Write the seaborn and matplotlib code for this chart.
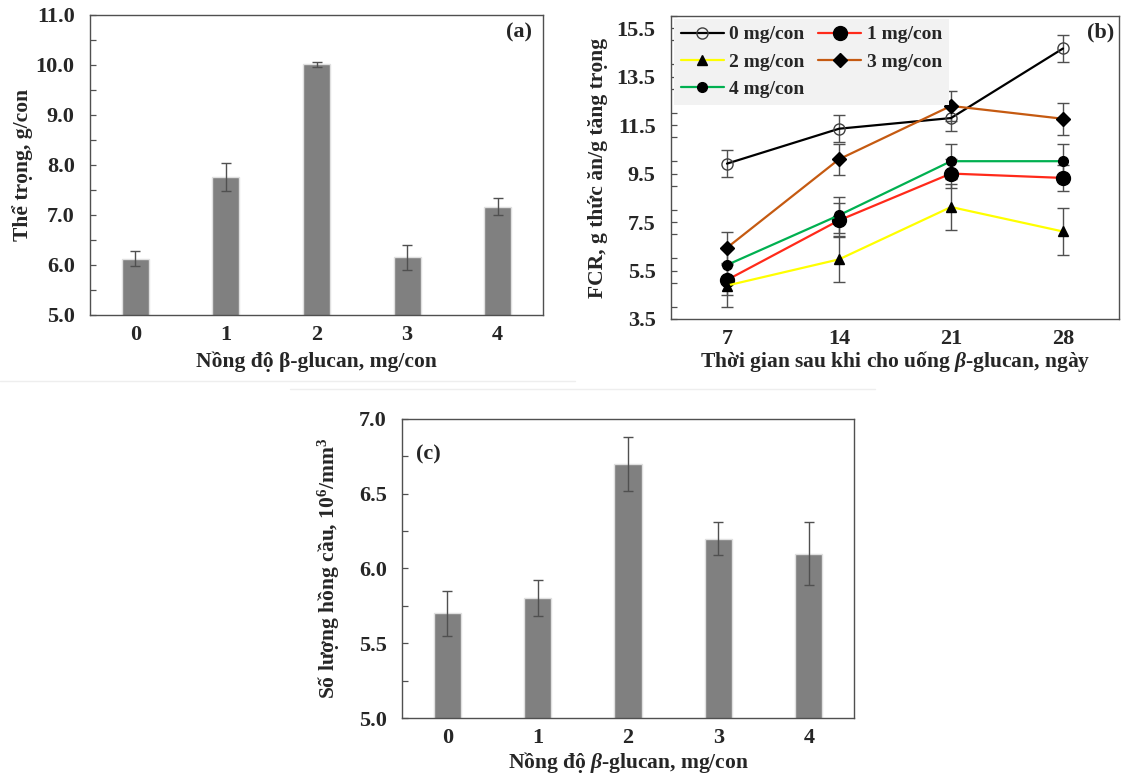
import numpy as np
import pandas as pd
import seaborn as sns
import matplotlib.pyplot as plt
from matplotlib.lines import Line2D
from matplotlib.ticker import MultipleLocator

# panel (a): body weight
doses = ["0", "1", "2", "3", "4"]
weight = [6.13, 7.76, 10.02, 6.16, 7.17]
weight_err = [0.15, 0.28, 0.05, 0.25, 0.17]

# panel (b): FCR over time
days = [7, 14, 21, 28]
series_names = ["0 mg/con", "1 mg/con", "2 mg/con", "3 mg/con", "4 mg/con"]
fcr_0 = [9.91, 11.35, 11.79, 14.66]
fcr_1 = [5.11, 7.57, 9.50, 9.32]
fcr_2 = [4.88, 5.96, 8.12, 7.11]
fcr_3 = [6.44, 10.09, 12.29, 11.76]
fcr_4 = [5.73, 7.78, 10.01, 10.01]
fcr_err_0 = [0.55, 0.55, 0.52, 0.57]
fcr_err_1 = [0.60, 0.70, 0.60, 0.55]
fcr_err_2 = [0.90, 0.95, 0.93, 0.95]
fcr_err_3 = [0.65, 0.65, 0.63, 0.65]
fcr_err_4 = [0.65, 0.75, 0.73, 0.73]

# panel (c): red blood cells
rbc = [5.70, 5.80, 6.70, 6.20, 6.10]
rbc_err = [0.15, 0.12, 0.18, 0.11, 0.21]

sns.set_theme(style="white")
plt.rcParams["font.family"] = ["Liberation Serif", "DejaVu Serif"]
plt.rcParams["font.weight"] = "bold"
plt.rcParams["axes.labelweight"] = "bold"
plt.rcParams["mathtext.fontset"] = "custom"
plt.rcParams["mathtext.rm"] = "Liberation Serif:bold"
plt.rcParams["mathtext.it"] = "Liberation Serif:italic:bold"
plt.rcParams["mathtext.bf"] = "Liberation Serif:bold"

W, H = 1121, 776
fig = plt.figure(figsize=(W / 100, H / 100), dpi=100)


def box(l, t, r, b):
    return [l / W, 1 - b / H, (r - l) / W, (b - t) / H]


ax_a = fig.add_axes(box(90, 15, 543, 315))
ax_b = fig.add_axes(box(671, 16, 1119, 319))
ax_c = fig.add_axes(box(402, 419, 854, 718))

spine_col = "#505050"
err_col = "#505050"
tick_fs = 16
lab_fs = 15.5


def style_axes(ax):
    for s in ax.spines.values():
        s.set_color(spine_col)
        s.set_linewidth(1.0)
    ax.tick_params(axis="y", which="both", direction="in", length=4, width=0.9,
                   color=spine_col, labelsize=tick_fs, pad=11, left=True)
    ax.tick_params(axis="x", which="both", length=0, labelsize=tick_fs, pad=7)
    for lab in ax.get_xticklabels() + ax.get_yticklabels():
        lab.set_fontweight("bold")


# ---- (a)
df_a = pd.DataFrame({"dose": doses, "weight": weight})
sns.barplot(data=df_a, x="dose", y="weight", color="#808080", width=0.3,
            saturation=1, edgecolor="#e0e0e0", linewidth=1, errorbar=None, ax=ax_a)
ax_a.errorbar(np.arange(len(doses)), weight, yerr=weight_err, fmt="none",
              ecolor=err_col, elinewidth=1, capsize=3.5, capthick=1)
ax_a.set_ylim(5, 11)
ax_a.set_xlim(-0.5, 4.5)
ax_a.yaxis.set_minor_locator(MultipleLocator(0.5))
ax_a.set_yticks(np.arange(5, 11.01, 1))
ax_a.set_yticklabels([f"{v:.1f}" for v in np.arange(5, 11.01, 1)])
ax_a.set_xlabel("Nồng độ β-glucan, mg/con", fontsize=lab_fs, labelpad=5)
ax_a.set_ylabel("Thể trọng, g/con", fontsize=lab_fs, labelpad=2)
ax_a.text(0.947, 0.943, "(a)", transform=ax_a.transAxes, fontsize=16,
          fontweight="bold", ha="center", va="center")
style_axes(ax_a)

# ---- (b)
fcr_vals = [fcr_0, fcr_1, fcr_2, fcr_3, fcr_4]
fcr_errs = [fcr_err_0, fcr_err_1, fcr_err_2, fcr_err_3, fcr_err_4]
line_cols = ["#000000", "#ff2a1a", "#ffff00", "#c55a11", "#00b050"]
markers = ["o", "o", "^", "D", "o"]
msizes = [8, 10, 6.5, 7, 7]
mfaces = ["none", "black", "black", "black", "black"]
medges = ["#404040", "black", "black", "black", "black"]

for name, vals, errs in zip(series_names, fcr_vals, fcr_errs):
    ax_b.errorbar(days, vals, yerr=errs, fmt="none", ecolor=err_col,
                  elinewidth=1, capsize=4, capthick=1, zorder=1)

handles = []
for name, vals, col, mk, ms, mf, me in zip(series_names, fcr_vals, line_cols,
                                          markers, msizes, mfaces, medges):
    sns.lineplot(x=days, y=vals, color=col, linewidth=1.6, marker=mk,
                 markersize=ms, markerfacecolor=mf, markeredgecolor=me,
                 markeredgewidth=1, ax=ax_b, zorder=3)
    handles.append(Line2D([], [], color=col, lw=1.6, marker=mk, markersize=ms,
                          markerfacecolor=mf, markeredgecolor=me, label=name))

ax_b.set_xlim(3.5, 31.5)
ax_b.set_ylim(3.5, 16.0)
ax_b.set_xticks(days)
ax_b.set_yticks(np.arange(3.5, 15.6, 2))
ax_b.set_yticklabels([f"{v:.1f}" for v in np.arange(3.5, 15.6, 2)])
ax_b.yaxis.set_minor_locator(MultipleLocator(1))
ax_b.set_xlabel(r"Thời gian sau khi cho uống $\mathit{\beta}$-glucan, ngày",
                fontsize=lab_fs, labelpad=0)
ax_b.set_ylabel("FCR, g thức ăn/g tăng trọng", fontsize=lab_fs, labelpad=6)
# row-wise order in a 2-column legend
order = [0, 2, 4, 1, 3]
leg = ax_b.legend(handles=[handles[i] for i in order], ncol=2, loc="upper left",
                  frameon=True, facecolor="#f2f2f2", edgecolor="none",
                  framealpha=1, fancybox=False, handlelength=2.2,
                  columnspacing=0.7, handletextpad=0.3, labelspacing=0.5,
                  borderpad=0.35, borderaxespad=0.15,
                  prop={"weight": "bold", "size": 14})
ax_b.text(0.958, 0.944, "(b)", transform=ax_b.transAxes, fontsize=16,
          fontweight="bold", ha="center", va="center")
style_axes(ax_b)

# ---- (c)
df_c = pd.DataFrame({"dose": doses, "rbc": rbc})
sns.barplot(data=df_c, x="dose", y="rbc", color="#808080", width=0.3,
            saturation=1, edgecolor="#e0e0e0", linewidth=1, errorbar=None, ax=ax_c)
ax_c.errorbar(np.arange(len(doses)), rbc, yerr=rbc_err, fmt="none",
              ecolor=err_col, elinewidth=1, capsize=3.5, capthick=1)
ax_c.set_ylim(5, 7)
ax_c.set_xlim(-0.5, 4.5)
ax_c.set_yticks(np.arange(5, 7.01, 0.5))
ax_c.set_yticklabels([f"{v:.1f}" for v in np.arange(5, 7.01, 0.5)])
ax_c.yaxis.set_minor_locator(MultipleLocator(0.25))
ax_c.set_xlabel(r"Nồng độ $\mathit{\beta}$-glucan, mg/con", fontsize=lab_fs, labelpad=1.5)
ax_c.set_ylabel(r"Số lượng hồng cầu, 10$^{6}$/mm$^{3}$", fontsize=lab_fs, labelpad=12)
ax_c.text(0.058, 0.88, "(c)", transform=ax_c.transAxes, fontsize=16,
          fontweight="bold", ha="center", va="center")
style_axes(ax_c)

# faint separator lines from the original composite
fig.add_artist(Line2D([0, 575 / W], [1 - 381 / H, 1 - 381 / H], color="#eeeeee", lw=1))
fig.add_artist(Line2D([290 / W, 875 / W], [1 - 389 / H, 1 - 389 / H], color="#eeeeee", lw=1))

fig.savefig("out.png", dpi=100, facecolor="white")
